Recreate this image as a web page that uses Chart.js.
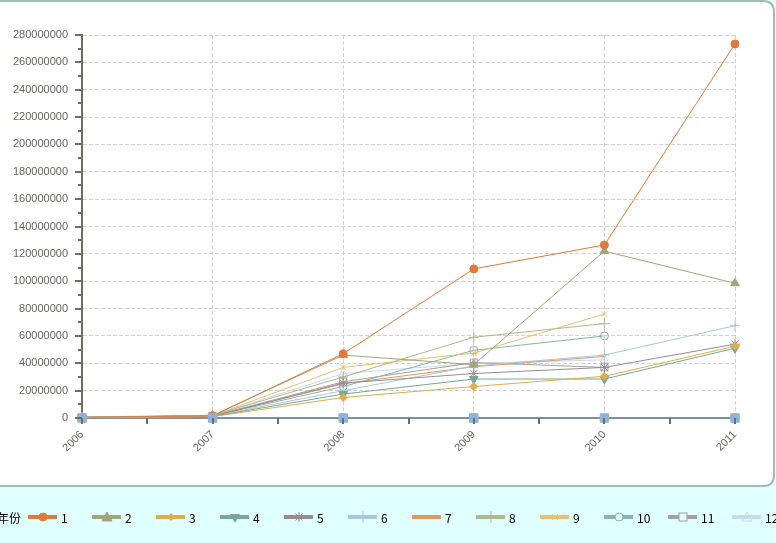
<!DOCTYPE html>
<html><head><meta charset="utf-8">
<script src="https://cdn.jsdelivr.net/npm/chart.js@4/dist/chart.umd.min.js"></script>
<style>
html,body{margin:0;padding:0;background:#e0ffff;}
#wrap{position:relative;width:776px;height:543px;overflow:hidden;}
#legend{position:absolute;left:0;top:486px;width:776px;height:57px;}
.item{position:absolute;top:0;height:57px;white-space:nowrap;}
.item svg{position:absolute;left:0;top:23px;}
.item span{position:absolute;left:33px;top:24px;font:12px "Noto Sans CJK SC","DejaVu Sans",sans-serif;color:#000;line-height:16px;}
</style></head>
<body><div id="wrap"><canvas id="c" width="776" height="543"></canvas><div id="legend"></div></div>
<script>
// ---- data ----
const labels = ['2006', '2007', '2008', '2009', '2010', '2011'];
const yearSeries = [2006, 2007, 2008, 2009, 2010, 2011];
const s1  = [500000, 1500000, 47000000, 109000000, 126500000, 273500000];
const s2  = [400000, 1800000, 46000000, 39000000, 122000000, 98500000];
const s3  = [300000, 1000000, 15000000, 23000000, 30500000, 52500000];
const s4  = [300000, 1200000, 17500000, 28500000, 28500000, 51000000];
const s5  = [400000, 1300000, 25500000, 32500000, 37000000, 54000000];
const s6  = [600000, 1400000, 20000000, 38000000, 46000000, 67500000];
const s7  = [300000, 1600000, 25000000, 37500000, 45000000, null];
const s8  = [700000, 2000000, 30000000, 59000000, 69000000, null];
const s9  = [500000, 1700000, 37000000, 47500000, 76000000, null];
const s10 = [400000, 1500000, 23000000, 49500000, 60000000, null];
const s11 = [500000, 1600000, 26500000, 40500000, 37000000, null];
const s12 = [600000, 1800000, 32500000, 40000000, 42500000, null];
const seriesNames = ['年份', '1', '2', '3', '4', '5', '6', '7', '8', '9', '10', '11', '12'];
const Y_MAX = 280000000, Y_STEP = 20000000;

const seriesData = [yearSeries, s1, s2, s3, s4, s5, s6, s7, s8, s9, s10, s11, s12];
const styles = [
  {c:'#8fb3d8', p:'rect', fill:true, r:6},
  {c:'#e07a3c', p:'circle', fill:true, r:4},
  {c:'#a3a57f', p:'triangle', fill:true, r:5},
  {c:'#e0ad4a', p:'rectRot', fill:true, r:4},
  {c:'#77a797', p:'triangle', rot:180, fill:true, r:5},
  {c:'#968e8e', p:'star', fill:false, r:5},
  {c:'#a9c5e1', p:'cross', fill:false, r:5},
  {c:'#e8955c', p:false, fill:false, r:0},
  {c:'#b3b78f', p:'cross', fill:false, r:5},
  {c:'#e8c06e', p:'crossRot', fill:false, r:4},
  {c:'#8bb3a7', p:'circle', fill:false, r:4},
  {c:'#a69f9f', p:'rect', fill:false, r:5},
  {c:'#c9d9ec', p:'triangle', fill:false, r:5}
];

const datasets = seriesNames.map((n, i) => {
  const s = styles[i];
  return {
    label: n, data: seriesData[i], clip: false,
    borderColor: s.c, backgroundColor: s.c, borderWidth: 1,
    pointStyle: s.p, pointRadius: s.r, pointHoverRadius: s.r,
    pointRotation: s.rot || 0,
    pointBackgroundColor: s.fill ? s.c : 'rgba(255,255,255,0)',
    pointBorderColor: s.c, pointBorderWidth: 1,
    tension: 0, spanGaps: false
  };
});

const panel = {
  id: 'panel',
  beforeDraw(chart) {
    const ctx = chart.ctx;
    ctx.save();
    ctx.fillStyle = '#e0ffff';
    ctx.fillRect(0, 0, chart.width, chart.height);
    const x0 = -20, y0 = 1, x1 = 774, y1 = 486, r = 11;
    ctx.beginPath();
    ctx.moveTo(x0, y0);
    ctx.lineTo(x1 - r, y0);
    ctx.quadraticCurveTo(x1, y0, x1, y0 + r);
    ctx.lineTo(x1, y1 - r);
    ctx.quadraticCurveTo(x1, y1, x1 - r, y1);
    ctx.lineTo(x0, y1);
    ctx.closePath();
    ctx.fillStyle = '#ffffff';
    ctx.fill();
    ctx.lineWidth = 2;
    ctx.strokeStyle = '#a3bbb3';
    ctx.stroke();
    ctx.restore();
  }
};

const tickMarks = {
  id: 'tickMarks',
  afterDraw(chart) {
    const ctx = chart.ctx, ys = chart.scales.y, xs = chart.scales.x, a = chart.chartArea;
    ctx.save();
    ctx.strokeStyle = '#6e6e62';
    ctx.lineWidth = 2;
    for (let v = 0; v <= Y_MAX; v += Y_STEP / 2) {
      const py = Math.round(ys.getPixelForValue(v));
      const major = (v % Y_STEP) === 0;
      ctx.beginPath();
      ctx.moveTo(a.left - (major ? 7 : 4), py);
      ctx.lineTo(a.left, py);
      ctx.stroke();
    }
    for (let i = 0; i < labels.length; i += 0.5) {
      const px = Math.round(xs.getPixelForValue(i));
      ctx.beginPath();
      ctx.moveTo(px, a.bottom);
      ctx.lineTo(px, a.bottom + 6);
      ctx.stroke();
    }
    ctx.restore();
  }
};

new Chart(document.getElementById('c'), {
  type: 'line',
  data: { labels: labels, datasets: datasets },
  options: {
    responsive: false, animation: false,
    layout: { padding: { left: 0, right: 41, top: 35, bottom: 0 } },
    plugins: { legend: { display: false }, tooltip: { enabled: false } },
    scales: {
      x: {
        type: 'category', offset: false,
        grid: { color: '#d2d2d2', drawTicks: false },
        border: { display: true, color: '#6e6e62', width: 2, dash: [4, 2] },
        ticks: { maxRotation: 45, minRotation: 45, padding: 10, color: '#66665c',
                 font: { family: 'Liberation Sans', size: 11 } },
        afterFit(scale) { scale.height = 125; }
      },
      y: {
        min: 0, max: Y_MAX,
        grid: { color: '#d2d2d2', drawTicks: false },
        border: { display: true, color: '#6e6e62', width: 2, dash: [4, 2] },
        ticks: { stepSize: Y_STEP, padding: 14, color: '#66665c',
                 font: { family: 'Liberation Sans', size: 11 },
                 callback: (v) => String(v) },
        afterFit(scale) { scale.width = 82; }
      }
    }
  },
  plugins: [panel, tickMarks]
});

// ---- HTML legend ----
function markerSvg(s) {
  const c = s.c, cx = 15, cy = 8;
  let m = '';
  switch (s.p) {
    case 'rect': m = `<rect x="${cx-4}" y="${cy-4}" width="8" height="8" fill="${s.fill ? c : '#e0ffff'}" stroke="${c}"/>`; break;
    case 'circle': m = `<circle cx="${cx}" cy="${cy}" r="4" fill="${s.fill ? c : '#e0ffff'}" stroke="${c}"/>`; break;
    case 'triangle':
      if (s.rot) m = `<polygon points="${cx-5},${cy-3} ${cx+5},${cy-3} ${cx},${cy+6}" fill="${c}"/>`;
      else m = `<polygon points="${cx-5},${cy+4} ${cx+5},${cy+4} ${cx},${cy-5}" fill="${s.fill ? c : 'none'}" stroke="${c}"/>`;
      break;
    case 'rectRot': m = `<polygon points="${cx},${cy-4} ${cx+4},${cy} ${cx},${cy+4} ${cx-4},${cy}" fill="${c}"/>`; break;
    case 'star': m = `<path d="M${cx} ${cy-5}V${cy+5}M${cx-5} ${cy}H${cx+5}M${cx-3.5} ${cy-3.5}L${cx+3.5} ${cy+3.5}M${cx+3.5} ${cy-3.5}L${cx-3.5} ${cy+3.5}" stroke="${c}"/>`; break;
    case 'cross': m = `<path d="M${cx} ${cy-6}V${cy+6}M${cx-5} ${cy}H${cx+5}" stroke="${c}"/>`; break;
    case 'crossRot': m = `<path d="M${cx-3} ${cy-3}L${cx+3} ${cy+3}M${cx+3} ${cy-3}L${cx-3} ${cy+3}" stroke="${c}"/>`; break;
    default: m = '';
  }
  return `<svg width="30" height="16" viewBox="0 0 30 16"><line x1="0" y1="${cy}" x2="29" y2="${cy}" stroke="${c}" stroke-width="4"/>${m}</svg>`;
}
const leg = document.getElementById('legend');
seriesNames.forEach((n, i) => {
  const d = document.createElement('div');
  d.className = 'item';
  d.style.left = (28 + 64 * (i - 1)) + 'px';
  d.innerHTML = markerSvg(styles[i]) + `<span>${n}</span>`;
  leg.appendChild(d);
});
</script>
</body></html>
